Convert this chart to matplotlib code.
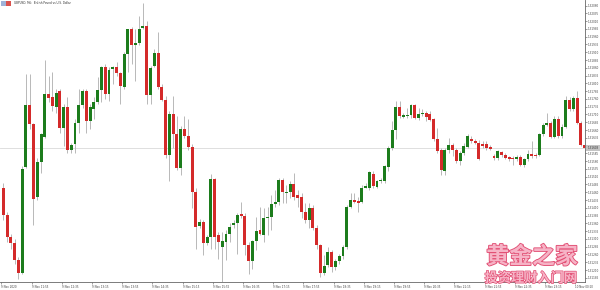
import matplotlib.pyplot as plt
import matplotlib.patheffects as pe
from matplotlib.patches import Rectangle
import numpy as np

# GBPUSD M5 candles
opens = [
    1.31473, 1.31387, 1.31317, 1.31298, 1.31241, 1.31201, 1.31541, 1.31741, 1.31678, 1.31444,
    1.31556, 1.31638, 1.31776, 1.31765, 1.31735, 1.31784, 1.31668, 1.31735, 1.31595, 1.31614,
    1.31684, 1.31741, 1.31784, 1.31689, 1.31727, 1.31749, 1.31789, 1.31862, 1.31776, 1.31857,
    1.31862, 1.31843, 1.31797, 1.31903, 1.31984, 1.31934, 1.31941, 1.31989, 1.31994, 1.31772,
    1.31867, 1.31908, 1.31797, 1.31756, 1.31579, 1.31711, 1.31646, 1.31538, 1.31662, 1.31641,
    1.31606, 1.31462, 1.31352, 1.31363, 1.31298, 1.31317, 1.31502, 1.31322, 1.31284, 1.31300,
    1.31327, 1.31354, 1.31362, 1.31390, 1.31385, 1.31290, 1.31238, 1.31303, 1.31338, 1.31322,
    1.31376, 1.31379, 1.31422, 1.31428, 1.31498, 1.31457, 1.31460, 1.31486, 1.31452, 1.31446,
    1.31398, 1.31371, 1.31408, 1.31344, 1.31290, 1.31201, 1.31225, 1.31268, 1.31219, 1.31238,
    1.31254, 1.31284, 1.31412, 1.31435, 1.31432, 1.31430, 1.31475, 1.31473, 1.31520, 1.31476,
    1.31495, 1.31495, 1.31541, 1.31601, 1.31660, 1.31735, 1.31703, 1.31705, 1.31708, 1.31740,
    1.31698, 1.31711, 1.31715, 1.31711, 1.31695, 1.31630, 1.31595, 1.31529, 1.31597, 1.31611,
    1.31597, 1.31562, 1.31587, 1.31606, 1.31632, 1.31624, 1.31619, 1.31616, 1.31614, 1.31606,
    1.31576, 1.31570, 1.31590, 1.31581, 1.31573, 1.31570, 1.31568, 1.31574, 1.31547, 1.31567,
    1.31583, 1.31579, 1.31579, 1.31646, 1.31676, 1.31681, 1.31637, 1.31697, 1.31641, 1.31670,
    1.31756, 1.31727, 1.31763, 1.31682, 1.31611,
]
highs = [
    1.31489, 1.31398, 1.31327, 1.31311, 1.31252, 1.31543, 1.31840, 1.31840, 1.31684, 1.31570,
    1.31651, 1.31886, 1.31835, 1.31846, 1.31792, 1.31792, 1.31743, 1.31767, 1.31619, 1.31695,
    1.31792, 1.31792, 1.31792, 1.31743, 1.31765, 1.31830, 1.31867, 1.31873, 1.31862, 1.31867,
    1.31878, 1.31846, 1.31911, 1.31986, 1.31992, 1.31986, 1.32027, 1.32067, 1.32011, 1.31867,
    1.31921, 1.31975, 1.31808, 1.31770, 1.31722, 1.31770, 1.31705, 1.31673, 1.31705, 1.31695,
    1.31614, 1.31473, 1.31374, 1.31371, 1.31322, 1.31519, 1.31506, 1.31333, 1.31333, 1.31338,
    1.31360, 1.31371, 1.31392, 1.31430, 1.31392, 1.31300, 1.31306, 1.31381, 1.31414, 1.31408,
    1.31414, 1.31452, 1.31468, 1.31506, 1.31506, 1.31484, 1.31495, 1.31522, 1.31468, 1.31457,
    1.31425, 1.31425, 1.31419, 1.31354, 1.31295, 1.31257, 1.31284, 1.31273, 1.31246, 1.31260,
    1.31290, 1.31419, 1.31457, 1.31457, 1.31446, 1.31484, 1.31489, 1.31529, 1.31527, 1.31500,
    1.31506, 1.31549, 1.31608, 1.31689, 1.31754, 1.31754, 1.31716, 1.31730, 1.31743, 1.31743,
    1.31732, 1.31727, 1.31722, 1.31722, 1.31700, 1.31668, 1.31603, 1.31603, 1.31635, 1.31619,
    1.31603, 1.31592, 1.31619, 1.31646, 1.31641, 1.31630, 1.31627, 1.31624, 1.31624, 1.31611,
    1.31583, 1.31597, 1.31594, 1.31587, 1.31578, 1.31576, 1.31579, 1.31579, 1.31570, 1.31597,
    1.31624, 1.31587, 1.31651, 1.31684, 1.31716, 1.31689, 1.31705, 1.31705, 1.31678, 1.31770,
    1.31765, 1.31770, 1.31786, 1.31689, 1.31616,
]
lows = [
    1.31371, 1.31300, 1.31279, 1.31230, 1.31182, 1.31198, 1.31538, 1.31662, 1.31354, 1.31435,
    1.31522, 1.31635, 1.31749, 1.31722, 1.31716, 1.31651, 1.31608, 1.31587, 1.31587, 1.31587,
    1.31651, 1.31732, 1.31651, 1.31662, 1.31695, 1.31743, 1.31749, 1.31759, 1.31754, 1.31808,
    1.31835, 1.31743, 1.31792, 1.31846, 1.31873, 1.31819, 1.31932, 1.31986, 1.31743, 1.31743,
    1.31862, 1.31792, 1.31754, 1.31570, 1.31495, 1.31603, 1.31533, 1.31516, 1.31635, 1.31597,
    1.31408, 1.31279, 1.31344, 1.31257, 1.31290, 1.31279, 1.31279, 1.31246, 1.31171, 1.31241,
    1.31300, 1.31344, 1.31263, 1.31376, 1.31257, 1.31198, 1.31214, 1.31273, 1.31322, 1.31300,
    1.31322, 1.31338, 1.31414, 1.31419, 1.31425, 1.31425, 1.31441, 1.31435, 1.31414, 1.31376,
    1.31360, 1.31344, 1.31338, 1.31279, 1.31187, 1.31195, 1.31219, 1.31203, 1.31209, 1.31230,
    1.31246, 1.31279, 1.31408, 1.31425, 1.31398, 1.31425, 1.31473, 1.31468, 1.31473, 1.31473,
    1.31489, 1.31489, 1.31527, 1.31597, 1.31630, 1.31700, 1.31698, 1.31698, 1.31700, 1.31695,
    1.31692, 1.31705, 1.31689, 1.31689, 1.31624, 1.31587, 1.31514, 1.31514, 1.31587, 1.31576,
    1.31554, 1.31549, 1.31581, 1.31603, 1.31619, 1.31614, 1.31565, 1.31603, 1.31597, 1.31595,
    1.31565, 1.31565, 1.31573, 1.31568, 1.31562, 1.31549, 1.31562, 1.31543, 1.31540, 1.31562,
    1.31570, 1.31570, 1.31576, 1.31641, 1.31673, 1.31633, 1.31633, 1.31635, 1.31635, 1.31665,
    1.31722, 1.31722, 1.31678, 1.31608, 1.31597,
]
closes = [
    1.31387, 1.31317, 1.31298, 1.31241, 1.31201, 1.31535, 1.31741, 1.31678, 1.31439, 1.31556,
    1.31646, 1.31776, 1.31763, 1.31738, 1.31779, 1.31668, 1.31735, 1.31597, 1.31611, 1.31684,
    1.31741, 1.31786, 1.31689, 1.31735, 1.31749, 1.31789, 1.31864, 1.31776, 1.31854, 1.31862,
    1.31843, 1.31803, 1.31903, 1.31984, 1.31932, 1.31941, 1.31986, 1.31995, 1.31772, 1.31859,
    1.31908, 1.31797, 1.31756, 1.31579, 1.31711, 1.31646, 1.31538, 1.31662, 1.31641, 1.31606,
    1.31462, 1.31349, 1.31365, 1.31298, 1.31317, 1.31502, 1.31317, 1.31300, 1.31303, 1.31327,
    1.31349, 1.31362, 1.31387, 1.31385, 1.31290, 1.31238, 1.31303, 1.31335, 1.31327, 1.31378,
    1.31379, 1.31422, 1.31430, 1.31500, 1.31460, 1.31462, 1.31486, 1.31446, 1.31441, 1.31398,
    1.31371, 1.31408, 1.31344, 1.31290, 1.31201, 1.31222, 1.31268, 1.31219, 1.31238, 1.31254,
    1.31284, 1.31412, 1.31435, 1.31430, 1.31427, 1.31475, 1.31481, 1.31525, 1.31479, 1.31495,
    1.31500, 1.31543, 1.31601, 1.31660, 1.31735, 1.31705, 1.31708, 1.31709, 1.31740, 1.31700,
    1.31713, 1.31715, 1.31703, 1.31692, 1.31630, 1.31592, 1.31533, 1.31597, 1.31611, 1.31595,
    1.31562, 1.31587, 1.31608, 1.31641, 1.31624, 1.31619, 1.31568, 1.31608, 1.31603, 1.31600,
    1.31569, 1.31592, 1.31579, 1.31570, 1.31567, 1.31568, 1.31574, 1.31549, 1.31567, 1.31583,
    1.31576, 1.31576, 1.31646, 1.31676, 1.31684, 1.31637, 1.31697, 1.31641, 1.31670, 1.31756,
    1.31727, 1.31763, 1.31684, 1.31611, 1.31603,
]

time_labels = [
    "9 Nov 2020", "9 Nov 11:55", "9 Nov 12:35", "9 Nov 13:15", "9 Nov 13:55",
    "9 Nov 14:35", "9 Nov 15:15", "9 Nov 15:55", "9 Nov 16:35", "9 Nov 17:15",
    "9 Nov 17:55", "9 Nov 18:35", "9 Nov 19:15", "9 Nov 19:55", "9 Nov 20:35",
    "9 Nov 21:15", "9 Nov 21:55", "9 Nov 22:35", "9 Nov 23:15", "10 Nov 00:10",
]
price_ticks = np.round(1.32060 - 0.00025 * np.arange(36), 5)
last_price = 1.31603
title = "GBPUSD, M5:  British Pound vs U.S. Dollar"

green = "#1c7c1c"
red = "#d42a2a"
wick = "#b8b8b8"

fig = plt.figure(figsize=(6, 2.9), dpi=100)
ax = fig.add_axes([0, 0.026, 0.975, 0.974])

o = np.array(opens)
h = np.array(highs)
l = np.array(lows)
c = np.array(closes)
x = np.arange(len(o))
up = c >= o

ax.vlines(x, l, h, color=wick, lw=0.7, zorder=1)
body = np.maximum(np.abs(c - o), 0.00003)
ax.bar(x, body, bottom=np.minimum(o, c), width=0.78,
       color=np.where(up, green, red), linewidth=0, zorder=2)

# bid line + price box
ax.axhline(last_price, color="#d9d9d9", lw=0.6, zorder=0)
ax.text(1.004, last_price, f"{last_price:.5f}", transform=ax.get_yaxis_transform(),
        ha="left", va="center", fontsize=2, color="#333333", clip_on=False,
        bbox=dict(boxstyle="square,pad=0.35", fc="#c4c4c4", ec="none"))

ax.set_xlim(-0.87, 154.1)
ax.set_ylim(1.31170, 1.32078)

ax.set_xticks(np.arange(len(time_labels)) * 8 - 0.5)
ax.set_xticklabels(time_labels, ha="left")
ax.set_yticks(price_ticks)
ax.set_yticklabels(["" if abs(v - last_price) < 0.0001 else f"{v:.5f}" for v in price_ticks])
ax.yaxis.tick_right()
ax.tick_params(axis="both", labelsize=2, length=1.5, width=0.4,
               colors="#555555", labelcolor="#444444", pad=0.8)
ax.tick_params(axis="x", pad=0.4, length=1.2)

for side in ["top", "left"]:
    ax.spines[side].set_visible(False)
for side in ["bottom", "right"]:
    ax.spines[side].set_color("#666666")
    ax.spines[side].set_linewidth(0.6)

# symbol title with small flag icon
fig.add_artist(Rectangle((1 / 600, 1 - 6 / 290), 5 / 600, 5 / 290,
                         transform=fig.transFigure, fc="#9fb3d9", ec="none"))
fig.add_artist(Rectangle((6 / 600, 1 - 6 / 290), 5 / 600, 5 / 290,
                         transform=fig.transFigure, fc="#d9534f", ec="none"))
fig.text(14 / 600, 1 - 3.5 / 290, title, fontsize=2, color="#333333", va="center")

# watermark
cjk = ["Noto Sans CJK SC", "DejaVu Sans"]
fig.text(532 / 600, 1 - 257 / 290, "黄金之家", family=cjk, fontsize=16.5,
         weight="bold", color="#f6b3c6", ha="center", va="center",
         path_effects=[pe.Stroke(linewidth=1.3, foreground="#e24f74"), pe.Normal()])
fig.text(531 / 600, 1 - 278 / 290, "投资理财入门网", family=cjk, fontsize=9.5,
         weight="bold", color="#f6b3c6", ha="center", va="center",
         path_effects=[pe.Stroke(linewidth=1.0, foreground="#e24f74"), pe.Normal()])

fig.savefig("out.png", dpi=100)
